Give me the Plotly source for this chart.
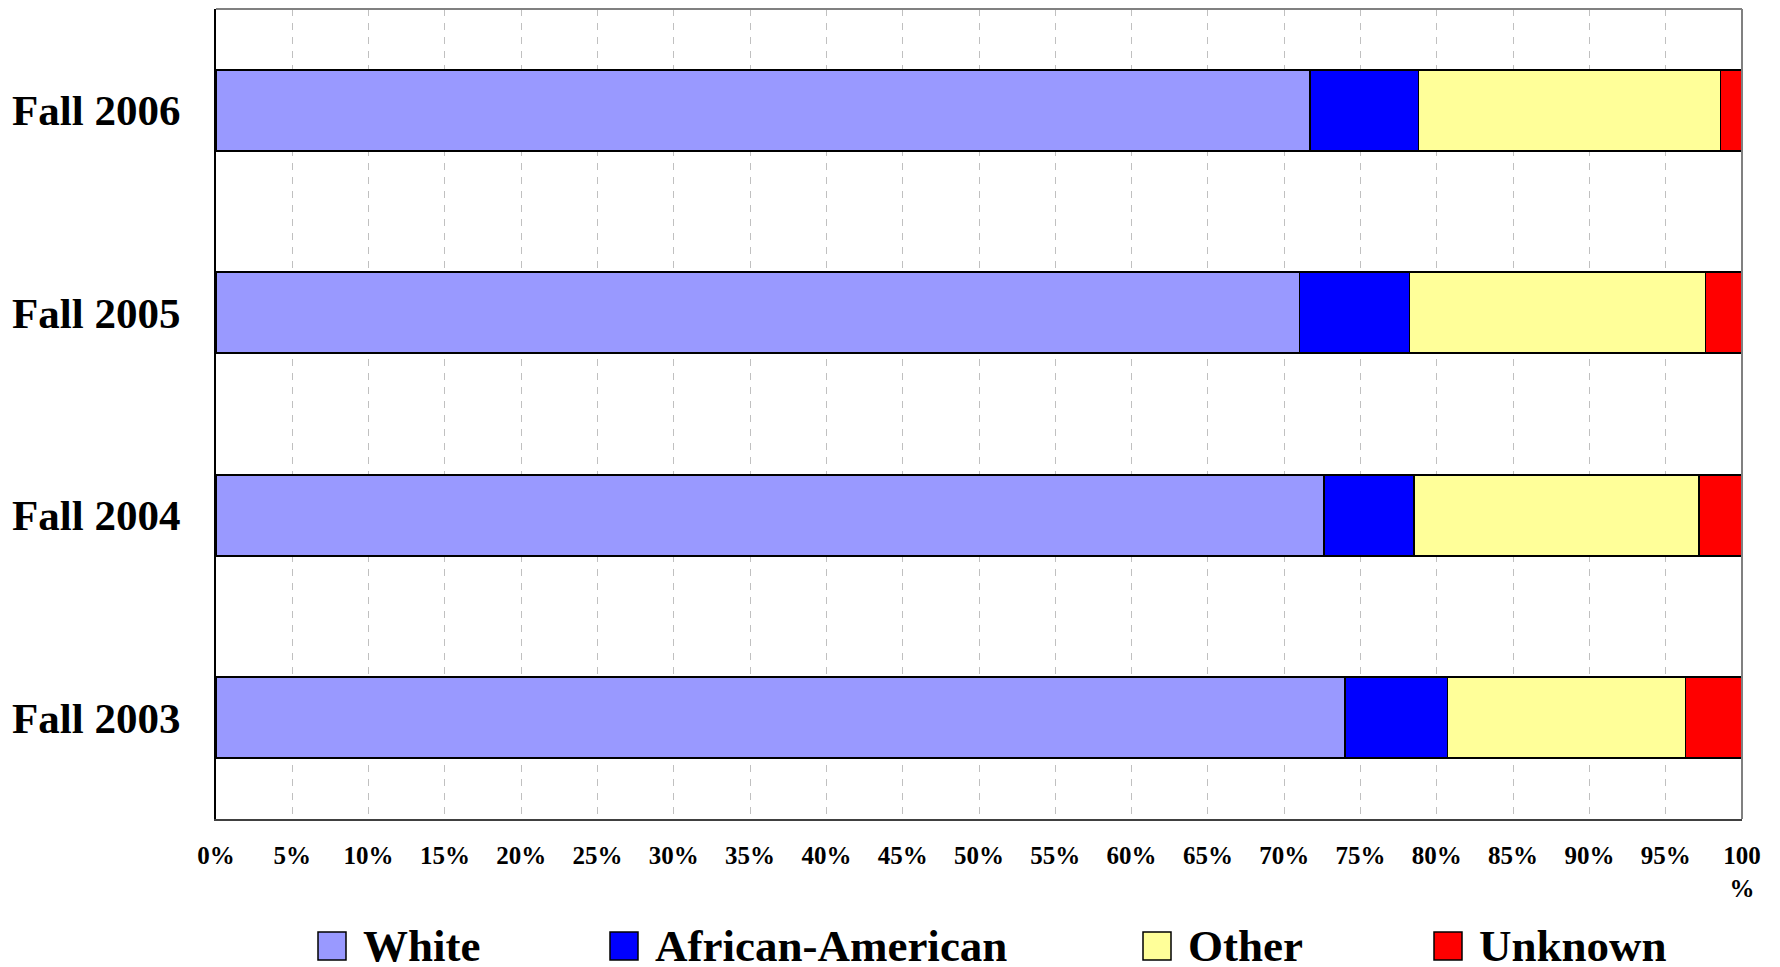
import plotly.graph_objects as go

# data (percent of students)
terms = ["Fall 2003", "Fall 2004", "Fall 2005", "Fall 2006"]
white = [74.0, 72.6, 71.0, 71.7]
african_american = [6.7, 5.9, 7.2, 7.1]
other = [15.6, 18.7, 19.4, 19.8]
unknown = [3.7, 2.8, 2.4, 1.4]

series_names = ["White", "African-American", "Other", "Unknown"]
series_colors = ["#9999FF", "#0000FF", "#FFFF99", "#FF0000"]

x_tick_vals = [0, 5, 10, 15, 20, 25, 30, 35, 40, 45, 50, 55, 60, 65, 70, 75, 80, 85, 90, 95, 100]
x_tick_text = ["0%", "5%", "10%", "15%", "20%", "25%", "30%", "35%", "40%", "45%", "50%",
               "55%", "60%", "65%", "70%", "75%", "80%", "85%", "90%", "95%", "100<br>%"]

FONT = "Liberation Serif, Times New Roman, serif"
# page body has an 8px margin, so the figure is 8px smaller than the window
OFF = 8
W, H = 1780 - OFF, 967 - OFF
L, R, T, B = 216 - OFF, 38, 9 - OFF, 148
PW, PH = W - L - R, H - T - B


def px_x(x):
    # x in window pixels -> paper coords
    return (x - OFF - L) / PW


def px_y(y):
    # y in window pixels -> paper coords
    return (H - B - (y - OFF)) / PH


fig = go.Figure()
for name, vals, color in zip(series_names, [white, african_american, other, unknown], series_colors):
    fig.add_trace(go.Bar(
        y=terms,
        x=vals,
        name=name,
        orientation="h",
        marker=dict(color=color, line=dict(color="black", width=1.6)),
        width=0.4,
        showlegend=False,
    ))

fig.update_layout(
    width=W,
    height=H,
    barmode="stack",
    plot_bgcolor="white",
    paper_bgcolor="white",
    margin=dict(l=L, r=R, t=T, b=B),
    font=dict(family=FONT, color="black"),
)

fig.update_xaxes(
    range=[0, 100],
    tickvals=x_tick_vals,
    ticktext=x_tick_text,
    tickfont=dict(family=FONT, size=25, color="black", weight="bold"),
    tickangle=0,
    ticks="",
    ticklabelstandoff=13,
    showgrid=True,
    gridcolor="#c0c0c0",
    gridwidth=1,
    griddash="7px,7px",
    showline=True,
    linecolor="#404040",
    linewidth=2,
    zeroline=False,
)
fig.update_yaxes(
    range=[-0.5, 3.5],
    tickfont=dict(family=FONT, size=43, color="black", weight="bold"),
    ticks="",
    ticklabelstandoff=25,
    showgrid=False,
    showline=True,
    linecolor="black",
    linewidth=2,
)

# top and right frame lines (grey)
fig.add_shape(type="line", xref="paper", yref="paper", x0=0, x1=1, y0=1, y1=1,
              line=dict(color="#808080", width=2))
fig.add_shape(type="line", xref="paper", yref="paper", x0=1, x1=1, y0=0, y1=1,
              line=dict(color="#808080", width=2))

# legend drawn below the plot
legend_box_x = [318, 610, 1143, 1434]
legend_y = 946
for name, color, bx in zip(series_names, series_colors, legend_box_x):
    fig.add_shape(type="rect", xref="paper", yref="paper",
                  x0=px_x(bx), x1=px_x(bx + 28), y0=px_y(legend_y + 14), y1=px_y(legend_y - 14),
                  fillcolor=color, line=dict(color="black", width=1.5))
    fig.add_annotation(x=px_x(bx + 43), y=px_y(legend_y), xref="paper", yref="paper",
                       text=name, showarrow=False, xanchor="left", yanchor="middle",
                       font=dict(family=FONT, size=45, color="black", weight="bold"))

fig.write_html("out.html")
